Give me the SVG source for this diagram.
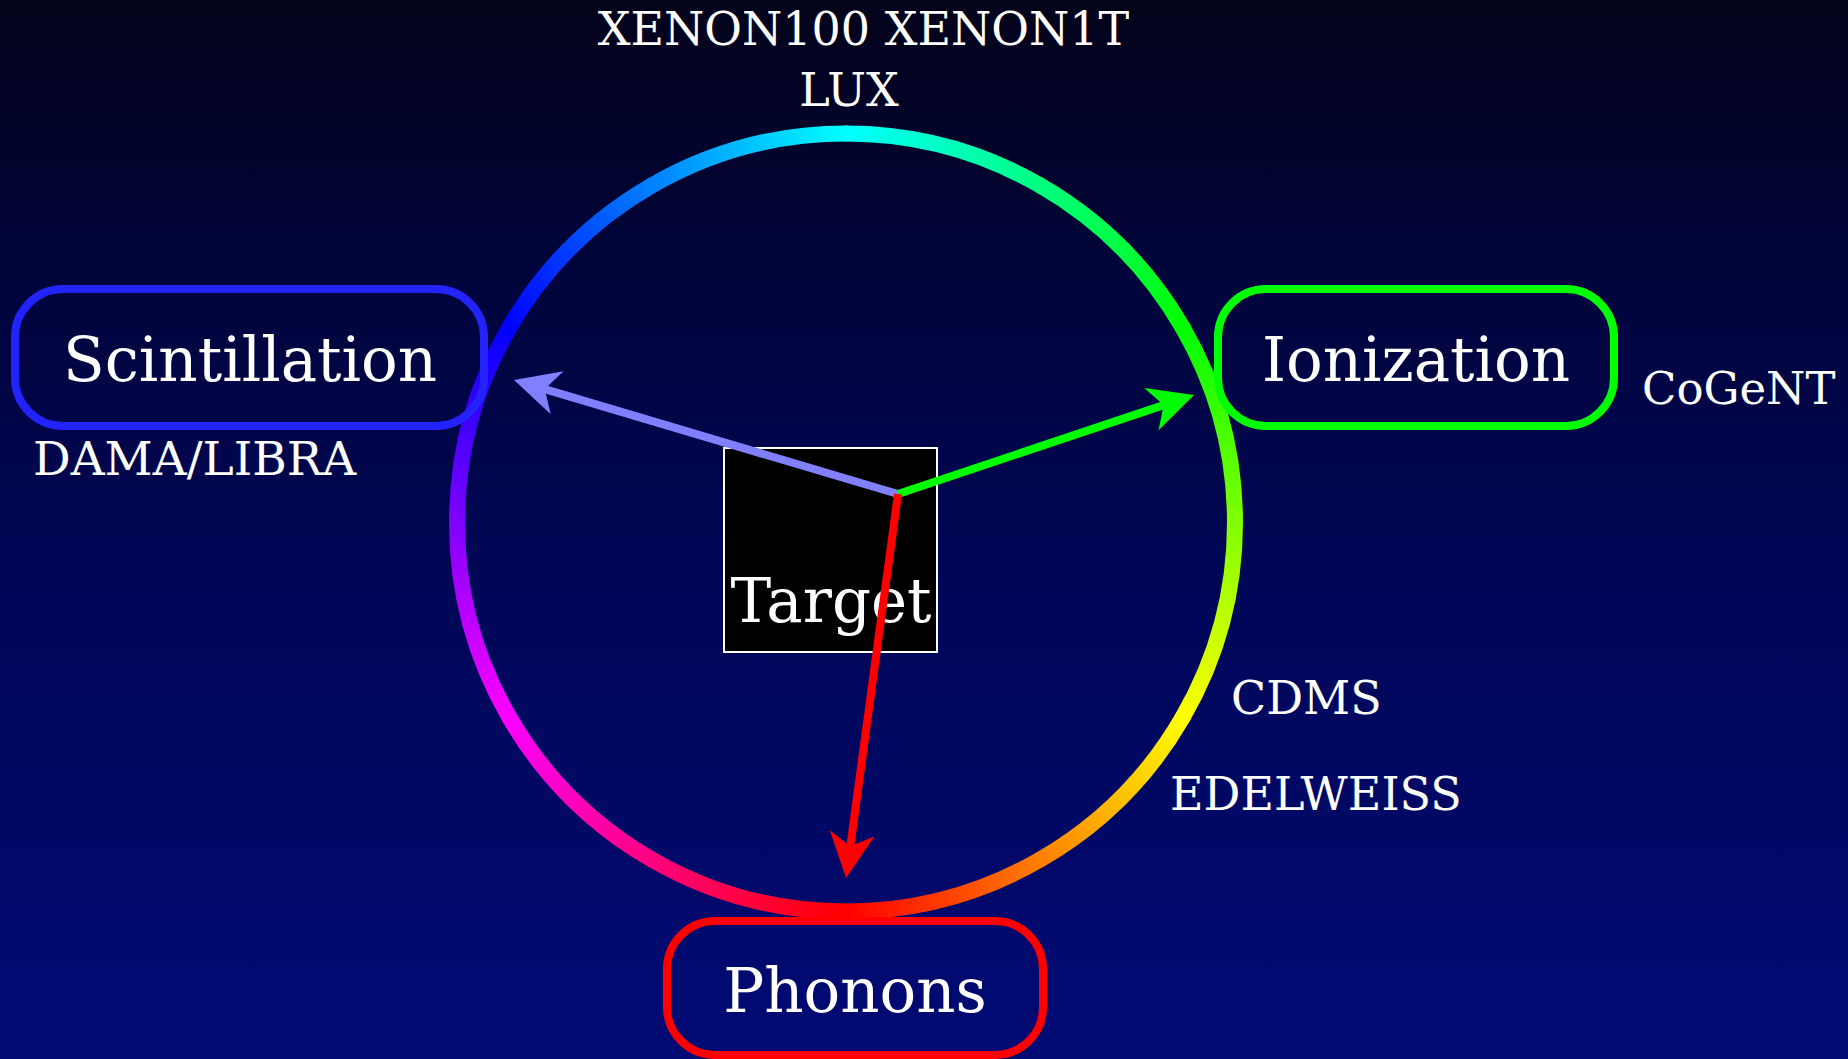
<svg xmlns="http://www.w3.org/2000/svg" width="1848" height="1059" viewBox="0 0 1848 1059">
  <style>
    .lbl { font-family: "DejaVu Serif", "Liberation Serif", serif; fill: #ffffff; }
    .big { font-size: 61px; text-anchor: middle; }
    .small { font-size: 46px; }
    .box { fill: none; stroke-width: 8; }
    .seg { fill: none; stroke-width: 16; stroke-linecap: round; }
    .arrow { fill: none; stroke-width: 8; }
  </style>
  <defs>
    <linearGradient id="bg" x1="0" y1="0" x2="0" y2="1">
      <stop offset="0" stop-color="#03031a"/>
      <stop offset="0.25" stop-color="#01043a"/>
      <stop offset="0.55" stop-color="#000757"/>
      <stop offset="1" stop-color="#000a74"/>
    </linearGradient>
    <linearGradient id="g1" gradientUnits="userSpaceOnUse" x1="846" y1="133.5" x2="1040.5" y2="185.6"><stop offset="0" stop-color="#00ffff"/><stop offset="1" stop-color="#00ff80"/></linearGradient>
    <linearGradient id="g2" gradientUnits="userSpaceOnUse" x1="1040.5" y1="185.6" x2="1182.9" y2="328"><stop offset="0" stop-color="#00ff80"/><stop offset="1" stop-color="#00ff00"/></linearGradient>
    <linearGradient id="g3" gradientUnits="userSpaceOnUse" x1="1182.9" y1="328" x2="1235" y2="522.5"><stop offset="0" stop-color="#00ff00"/><stop offset="1" stop-color="#80ff00"/></linearGradient>
    <linearGradient id="g4" gradientUnits="userSpaceOnUse" x1="1235" y1="522.5" x2="1182.9" y2="717"><stop offset="0" stop-color="#80ff00"/><stop offset="1" stop-color="#ffff00"/></linearGradient>
    <linearGradient id="g5" gradientUnits="userSpaceOnUse" x1="1182.9" y1="717" x2="1040.5" y2="859.4"><stop offset="0" stop-color="#ffff00"/><stop offset="1" stop-color="#ff8000"/></linearGradient>
    <linearGradient id="g6" gradientUnits="userSpaceOnUse" x1="1040.5" y1="859.4" x2="846" y2="911.5"><stop offset="0" stop-color="#ff8000"/><stop offset="1" stop-color="#ff0000"/></linearGradient>
    <linearGradient id="g7" gradientUnits="userSpaceOnUse" x1="846" y1="911.5" x2="651.5" y2="859.4"><stop offset="0" stop-color="#ff0000"/><stop offset="1" stop-color="#ff0080"/></linearGradient>
    <linearGradient id="g8" gradientUnits="userSpaceOnUse" x1="651.5" y1="859.4" x2="509.1" y2="717"><stop offset="0" stop-color="#ff0080"/><stop offset="1" stop-color="#ff00ff"/></linearGradient>
    <linearGradient id="g9" gradientUnits="userSpaceOnUse" x1="509.1" y1="717" x2="457" y2="522.5"><stop offset="0" stop-color="#ff00ff"/><stop offset="1" stop-color="#8000ff"/></linearGradient>
    <linearGradient id="g10" gradientUnits="userSpaceOnUse" x1="457" y1="522.5" x2="509.1" y2="328"><stop offset="0" stop-color="#8000ff"/><stop offset="1" stop-color="#0000ff"/></linearGradient>
    <linearGradient id="g11" gradientUnits="userSpaceOnUse" x1="509.1" y1="328" x2="651.5" y2="185.6"><stop offset="0" stop-color="#0000ff"/><stop offset="1" stop-color="#0080ff"/></linearGradient>
    <linearGradient id="g12" gradientUnits="userSpaceOnUse" x1="651.5" y1="185.6" x2="846" y2="133.5"><stop offset="0" stop-color="#0080ff"/><stop offset="1" stop-color="#00ffff"/></linearGradient>
    <marker id="headBlue" markerUnits="userSpaceOnUse" orient="auto" refX="0" refY="0" markerWidth="60" markerHeight="60" overflow="visible">
      <path d="M25,0 L-20,-22.5 L-7,0 L-20,22.5 Z" fill="#8080ff"/>
    </marker>
    <marker id="headGreen" markerUnits="userSpaceOnUse" orient="auto" refX="0" refY="0" markerWidth="60" markerHeight="60" overflow="visible">
      <path d="M25,0 L-20,-22.5 L-7,0 L-20,22.5 Z" fill="#00ff00"/>
    </marker>
    <marker id="headRed" markerUnits="userSpaceOnUse" orient="auto" refX="0" refY="0" markerWidth="60" markerHeight="60" overflow="visible">
      <path d="M25,0 L-20,-22.5 L-7,0 L-20,22.5 Z" fill="#ff0000"/>
    </marker>
  </defs>

  <rect id="background" x="0" y="0" width="1848" height="1059" fill="url(#bg)"/>

  <g id="ring">
    <path class="seg" stroke="url(#g1)" d="M846,133.5 A389,389 0 0 1 1040.5,185.6"/>
    <path class="seg" stroke="url(#g2)" d="M1040.5,185.6 A389,389 0 0 1 1182.9,328"/>
    <path class="seg" stroke="url(#g3)" d="M1182.9,328 A389,389 0 0 1 1235,522.5"/>
    <path class="seg" stroke="url(#g4)" d="M1235,522.5 A389,389 0 0 1 1182.9,717"/>
    <path class="seg" stroke="url(#g5)" d="M1182.9,717 A389,389 0 0 1 1040.5,859.4"/>
    <path class="seg" stroke="url(#g6)" d="M1040.5,859.4 A389,389 0 0 1 846,911.5"/>
    <path class="seg" stroke="url(#g7)" d="M846,911.5 A389,389 0 0 1 651.5,859.4"/>
    <path class="seg" stroke="url(#g8)" d="M651.5,859.4 A389,389 0 0 1 509.1,717"/>
    <path class="seg" stroke="url(#g9)" d="M509.1,717 A389,389 0 0 1 457,522.5"/>
    <path class="seg" stroke="url(#g10)" d="M457,522.5 A389,389 0 0 1 509.1,328"/>
    <path class="seg" stroke="url(#g11)" d="M509.1,328 A389,389 0 0 1 651.5,185.6"/>
    <path class="seg" stroke="url(#g12)" d="M651.5,185.6 A389,389 0 0 1 846,133.5"/>
  </g>

  <g id="scintillation">
    <rect class="box" x="15" y="289" width="469" height="137" rx="48" ry="48" stroke="#2323ff"/>
    <text class="lbl big" x="250" y="381">Scintillation</text>
  </g>
  <g id="ionization">
    <rect class="box" x="1218" y="289" width="396" height="137" rx="48" ry="48" stroke="#00ff00"/>
    <text class="lbl big" x="1416" y="381">Ionization</text>
  </g>
  <g id="phonons">
    <rect class="box" x="667" y="921" width="376" height="134" rx="48" ry="48" stroke="#ff0000"/>
    <text class="lbl big" x="855" y="1012">Phonons</text>
  </g>
  <g id="target">
    <rect x="724" y="448" width="213" height="204" fill="#000000" stroke="#ffffff" stroke-width="2"/>
    <text class="lbl big" x="831" y="622">Target</text>
  </g>

  <g id="experiments">
    <text class="lbl small" x="863.5" y="45" text-anchor="middle">XENON100 XENON1T</text>
    <text class="lbl small" x="849" y="106" text-anchor="middle">LUX</text>
    <text class="lbl small" x="33" y="475" style="font-size:47px">DAMA/LIBRA</text>
    <text class="lbl small" x="1642" y="404" style="font-size:45px">CoGeNT</text>
    <text class="lbl small" x="1231" y="714">CDMS</text>
    <text class="lbl small" x="1170" y="810">EDELWEISS</text>
  </g>

  <g id="connectors">
    <line class="arrow" x1="898" y1="494" x2="538" y2="387.1" stroke="#8080ff" marker-end="url(#headBlue)"/>
    <line class="arrow" x1="898" y1="494" x2="1170.3" y2="402.9" stroke="#00ff00" marker-end="url(#headGreen)"/>
    <line class="arrow" x1="898" y1="494" x2="849.4" y2="853.2" stroke="#ff0000" marker-end="url(#headRed)"/>
  </g>
</svg>
